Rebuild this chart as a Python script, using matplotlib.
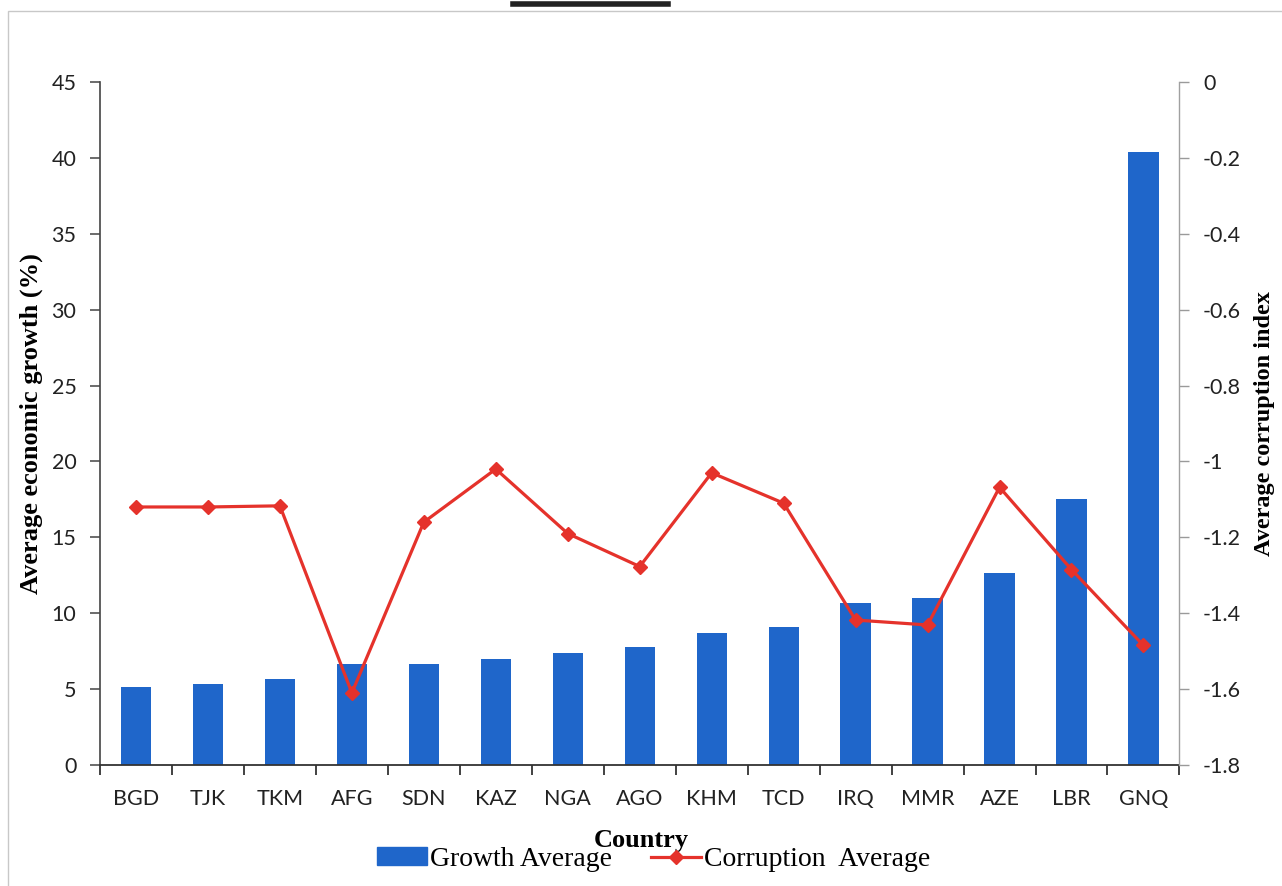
import matplotlib.pyplot as plt
from matplotlib.patches import Rectangle
from matplotlib.lines import Line2D
import numpy as np

countries = ["BGD", "TJK", "TKM", "AFG", "SDN", "KAZ", "NGA", "AGO",
             "KHM", "TCD", "IRQ", "MMR", "AZE", "LBR", "GNQ"]
growth_avg = [5.16, 5.34, 5.64, 6.63, 6.65, 6.96, 7.36, 7.75,
              8.68, 9.11, 10.69, 11.02, 12.67, 17.5, 40.4]
corruption_avg = [-1.12, -1.12, -1.117, -1.61, -1.16, -1.02, -1.19, -1.277,
                  -1.03, -1.11, -1.418, -1.431, -1.068, -1.285, -1.485]

bar_blue = "#1F66CA"
line_red = "#E5322B"
serif = "Liberation Serif"
sans = "Lato"

fig = plt.figure(figsize=(12.82, 8.86), dpi=100)
ax = fig.add_axes([0.078, 0.1366, 0.842, 0.7708])
ax2 = ax.twinx()

x = np.arange(len(countries))
ax.bar(x, growth_avg, width=0.42, color=bar_blue, zorder=2)
ax2.plot(x, corruption_avg, color=line_red, lw=2.3, marker="D", ms=7,
         zorder=3)
ax.set_zorder(1)
ax2.set_zorder(2)
ax.patch.set_visible(False)

ax.set_xlim(-0.5, len(countries) - 0.5)
ax.set_ylim(0, 45)
ax.set_yticks(np.arange(0, 46, 5))
ax2.set_ylim(-1.8, 0)
ax2.set_yticks(np.round(np.arange(-1.8, 0.01, 0.2), 1))
ax2.set_yticklabels(["-1.8", "-1.6", "-1.4", "-1.2", "-1", "-0.8", "-0.6",
                     "-0.4", "-0.2", "0"])

# category boundaries carry the tick marks, labels sit at bar centres
ax.set_xticks(np.arange(-0.5, len(countries), 1.0))
ax.set_xticklabels([])
ax.set_xticks(x, minor=True)
ax.set_xticklabels(countries, minor=True, fontsize=15.5, family=sans,
                   color="#222222")
ax.tick_params(axis="x", which="minor", length=0, pad=17)
ax.tick_params(axis="x", which="major", length=7, width=1.3,
               color="#333333")
ax.tick_params(axis="y", length=7, width=1.1, color="#444444", pad=10,
               labelsize=15.5, labelcolor="#222222")
for lbl in ax.get_yticklabels():
    lbl.set_family(sans)
ax2.tick_params(axis="y", length=7, width=1.0, color="#9a9a9a", pad=10,
                labelsize=15.5, labelcolor="#222222")
for lbl in ax2.get_yticklabels():
    lbl.set_family(sans)

for a in (ax, ax2):
    a.spines["top"].set_visible(False)
ax.spines["left"].set_color("#444444")
ax.spines["left"].set_linewidth(1.2)
ax.spines["bottom"].set_color("#333333")
ax.spines["bottom"].set_linewidth(1.3)
ax.spines["right"].set_visible(False)
ax2.spines["left"].set_visible(False)
ax2.spines["bottom"].set_visible(False)
ax2.spines["right"].set_color("#a0a0a0")
ax2.spines["right"].set_linewidth(1.0)

ax.set_ylabel("Average economic growth (%)", family=serif, weight="bold",
              fontsize=19, labelpad=6)
ax2.set_ylabel("Average corruption index", family=serif, weight="bold",
               fontsize=17.5, labelpad=9)

fig.text(0.5, 0.051, "Country", family=serif, weight="bold", fontsize=19,
         ha="center", va="center")

handles = [Rectangle((0, 0), 1, 1, color=bar_blue),
           Line2D([], [], color=line_red, lw=2.3, marker="D", ms=7)]
fig.legend(handles, ["Growth Average", "Corruption  Average"], ncol=2,
           loc="center", bbox_to_anchor=(0.51, 0.03), frameon=False,
           prop={"family": serif, "size": 20}, handlelength=1.8,
           handleheight=0.6, handletextpad=0.1, columnspacing=1.4)

# page frame and the cut heading rule along the top
fig.add_artist(Rectangle((0.0065, -0.1), 1.2, 1.0875, transform=fig.transFigure,
                         fill=False, edgecolor="#c8c8c8", lw=1.0))
fig.add_artist(Line2D([0.4, 0.521], [0.9955, 0.9955], transform=fig.transFigure,
                      color="#222222", lw=4))

fig.savefig("out.png", dpi=100)
